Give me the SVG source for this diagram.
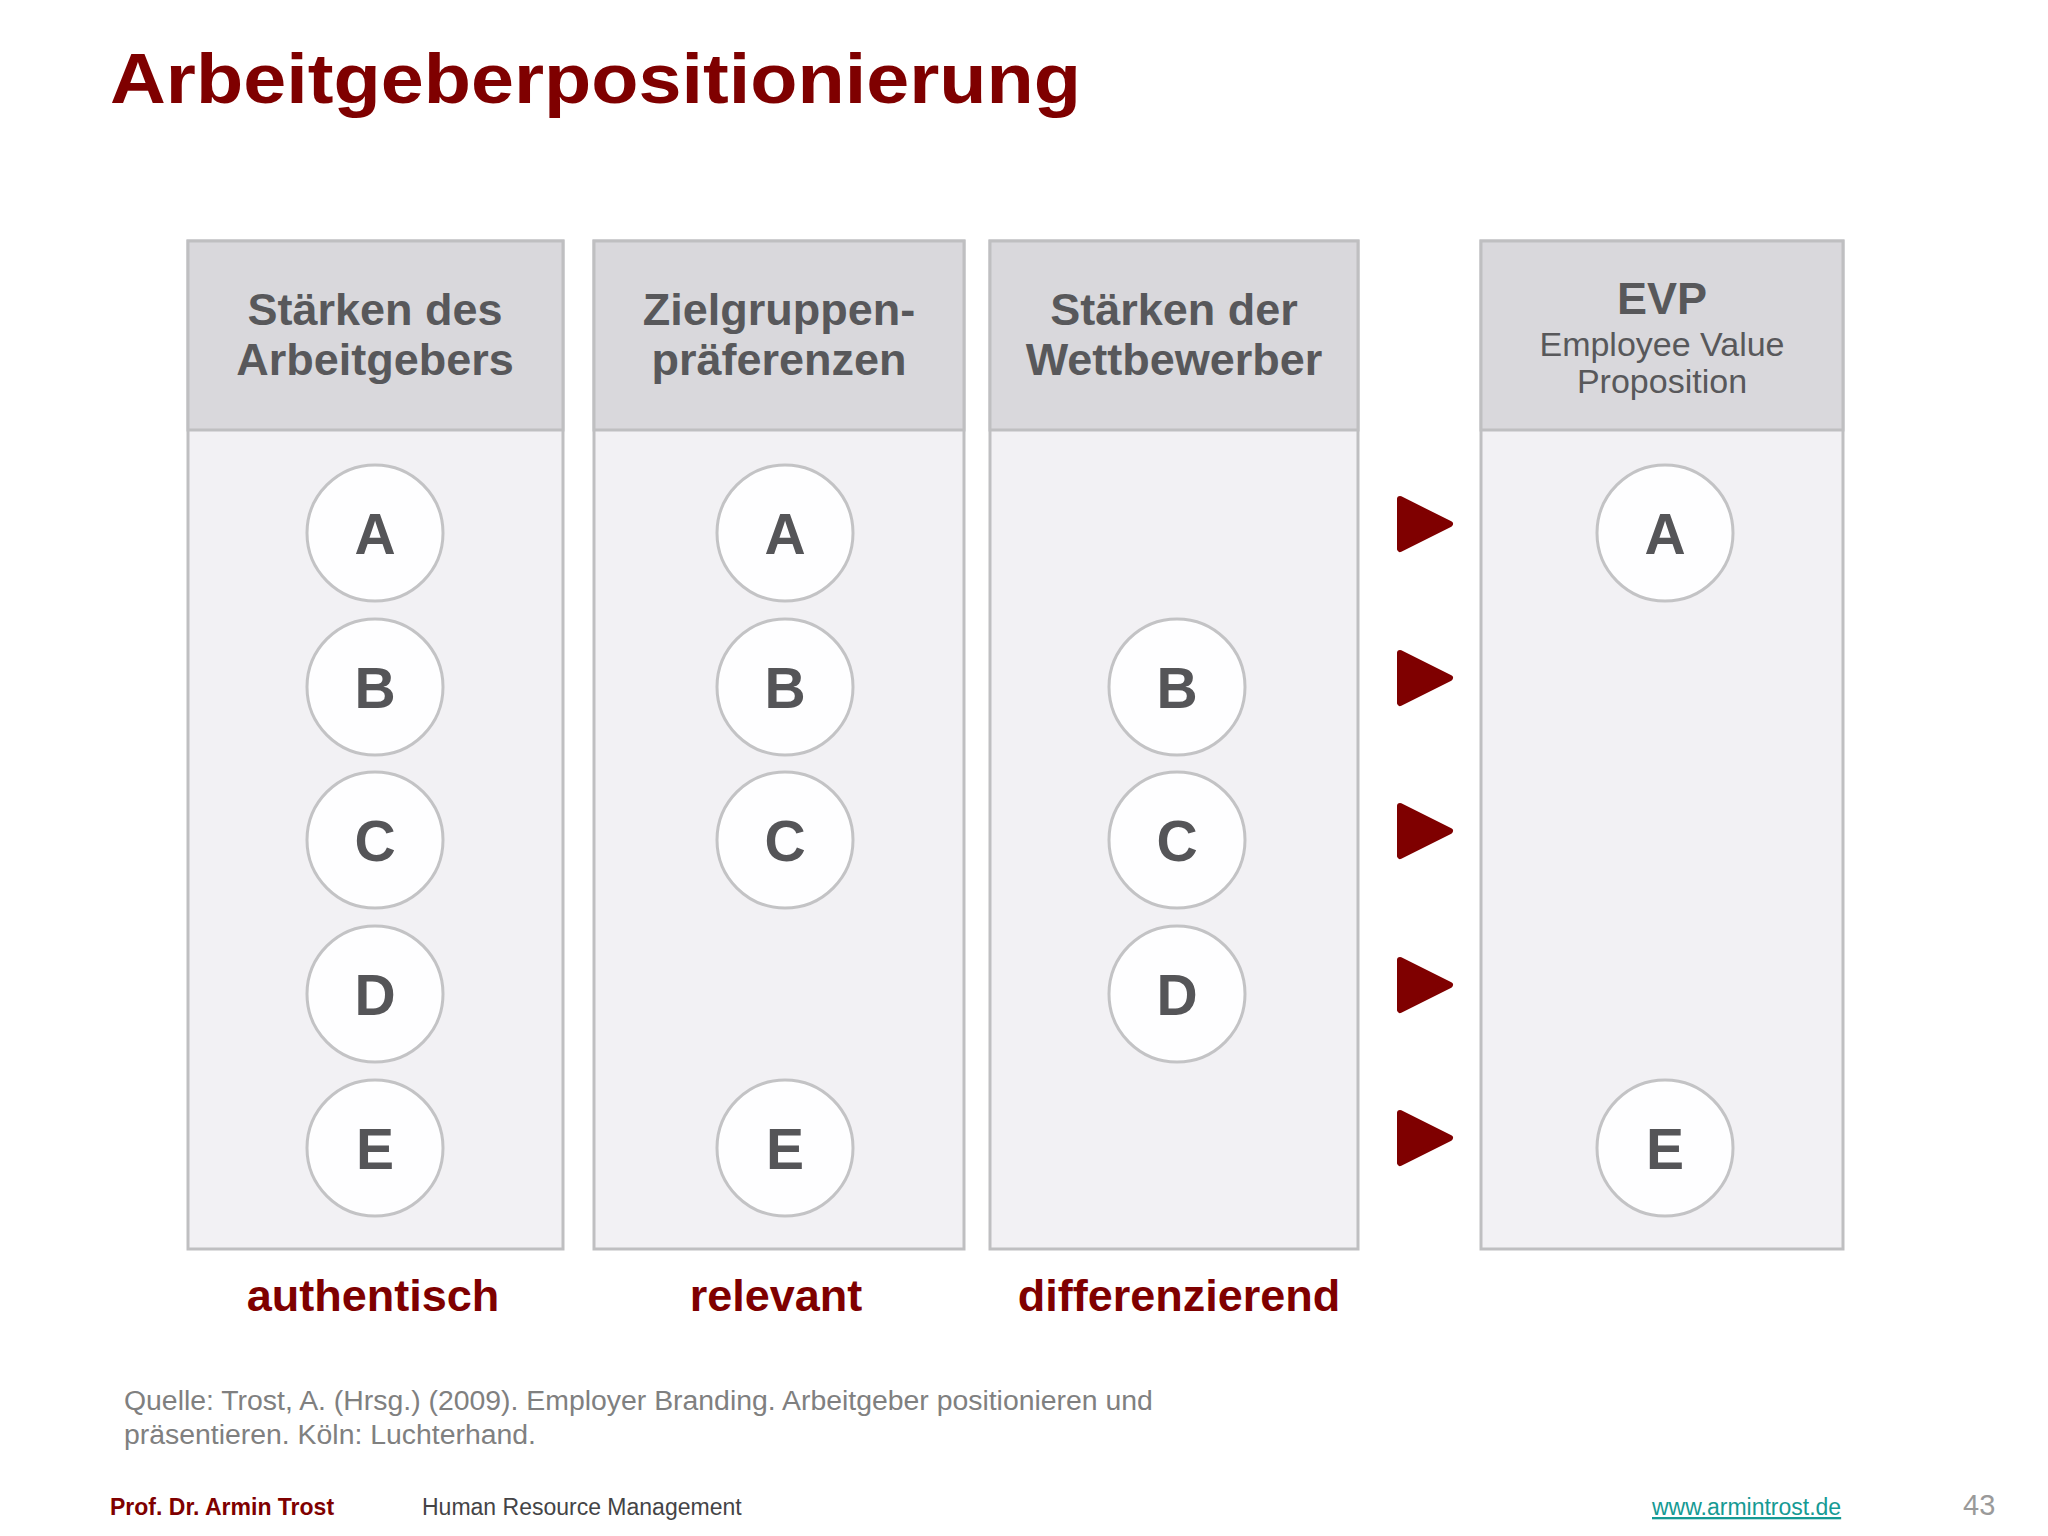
<svg xmlns="http://www.w3.org/2000/svg" width="2048" height="1536" viewBox="0 0 2048 1536">
<style>
.col-head{fill:#d9d8dc;stroke:#bfbfc1;stroke-width:3}
.col-body{fill:#f2f1f4;stroke:#bfbfc1;stroke-width:3}
.hd{font-family:"Liberation Sans",Arial,sans-serif;font-weight:bold;font-size:45px;fill:#58585b;text-anchor:middle}
.sub{font-family:"Liberation Sans",Arial,sans-serif;font-size:34px;fill:#58585b;text-anchor:middle}
.circ{fill:#fefeff;stroke:#c3c3c5;stroke-width:3}
.lt{font-family:"Liberation Sans",Arial,sans-serif;font-weight:bold;font-size:57px;fill:#555558;text-anchor:middle}
.lbl{font-family:"Liberation Sans",Arial,sans-serif;font-weight:bold;font-size:45px;fill:#7f0000;text-anchor:middle}
.arr{fill:#7f0000;stroke:#7f0000;stroke-width:6;stroke-linejoin:round}
.src{font-family:"Liberation Sans",Arial,sans-serif;font-size:28.4px;fill:#808080}
.ft{font-family:"Liberation Sans",Arial,sans-serif;font-size:23px;fill:#444446}
</style>
<rect width="2048" height="1536" fill="#ffffff"/>
<text x="110" y="103" font-family="'Liberation Sans',Arial,sans-serif" font-weight="bold" font-size="70" fill="#7f0000" textLength="971" lengthAdjust="spacingAndGlyphs">Arbeitgeberpositionierung</text>

<g id="col1">
<rect class="col-body" x="188" y="241" width="375" height="1008"/>
<rect class="col-head" x="188" y="241" width="375" height="189"/>
<text class="hd" x="375" y="325">Stärken des</text>
<text class="hd" x="375" y="375">Arbeitgebers</text>
</g>
<g id="col2">
<rect class="col-body" x="594" y="241" width="370" height="1008"/>
<rect class="col-head" x="594" y="241" width="370" height="189"/>
<text class="hd" x="779" y="325">Zielgruppen-</text>
<text class="hd" x="779" y="375">präferenzen</text>
</g>
<g id="col3">
<rect class="col-body" x="990" y="241" width="368" height="1008"/>
<rect class="col-head" x="990" y="241" width="368" height="189"/>
<text class="hd" x="1174" y="325">Stärken der</text>
<text class="hd" x="1174" y="375">Wettbewerber</text>
</g>
<g id="col4">
<rect class="col-body" x="1481" y="241" width="362" height="1008"/>
<rect class="col-head" x="1481" y="241" width="362" height="189"/>
<text class="hd" x="1662" y="314" font-size="50">EVP</text>
<text class="sub" x="1662" y="356">Employee Value</text>
<text class="sub" x="1662" y="393">Proposition</text>
</g>

<g id="c1A"><circle class="circ" cx="375" cy="533" r="68"/><text class="lt" x="375" y="554">A</text></g>
<g id="c1B"><circle class="circ" cx="375" cy="687" r="68"/><text class="lt" x="375" y="708">B</text></g>
<g id="c1C"><circle class="circ" cx="375" cy="840" r="68"/><text class="lt" x="375" y="861">C</text></g>
<g id="c1D"><circle class="circ" cx="375" cy="994" r="68"/><text class="lt" x="375" y="1015">D</text></g>
<g id="c1E"><circle class="circ" cx="375" cy="1148" r="68"/><text class="lt" x="375" y="1169">E</text></g>

<g id="c2A"><circle class="circ" cx="785" cy="533" r="68"/><text class="lt" x="785" y="554">A</text></g>
<g id="c2B"><circle class="circ" cx="785" cy="687" r="68"/><text class="lt" x="785" y="708">B</text></g>
<g id="c2C"><circle class="circ" cx="785" cy="840" r="68"/><text class="lt" x="785" y="861">C</text></g>
<g id="c2E"><circle class="circ" cx="785" cy="1148" r="68"/><text class="lt" x="785" y="1169">E</text></g>

<g id="c3B"><circle class="circ" cx="1177" cy="687" r="68"/><text class="lt" x="1177" y="708">B</text></g>
<g id="c3C"><circle class="circ" cx="1177" cy="840" r="68"/><text class="lt" x="1177" y="861">C</text></g>
<g id="c3D"><circle class="circ" cx="1177" cy="994" r="68"/><text class="lt" x="1177" y="1015">D</text></g>

<g id="c4A"><circle class="circ" cx="1665" cy="533" r="68"/><text class="lt" x="1665" y="554">A</text></g>
<g id="c4E"><circle class="circ" cx="1665" cy="1148" r="68"/><text class="lt" x="1665" y="1169">E</text></g>

<g id="connectors">
<polygon class="arr" points="1400,499 1450,524 1400,549"/>
<polygon class="arr" points="1400,653 1450,678 1400,703"/>
<polygon class="arr" points="1400,806 1450,831 1400,856"/>
<polygon class="arr" points="1400,960 1450,985 1400,1010"/>
<polygon class="arr" points="1400,1113 1450,1138 1400,1163"/>
</g>

<text class="lbl" x="373" y="1311">authentisch</text>
<text class="lbl" x="776" y="1311">relevant</text>
<text class="lbl" x="1179" y="1311">differenzierend</text>

<text class="src" x="124" y="1410">Quelle: Trost, A. (Hrsg.) (2009). Employer Branding. Arbeitgeber positionieren und</text>
<text class="src" x="124" y="1444">präsentieren. Köln: Luchterhand.</text>

<text x="110" y="1515" font-family="'Liberation Sans',Arial,sans-serif" font-weight="bold" font-size="23" fill="#7f0000">Prof. Dr. Armin Trost</text>
<text class="ft" x="422" y="1515">Human Resource Management</text>
<text x="1652" y="1515" font-family="'Liberation Sans',Arial,sans-serif" font-size="23" fill="#159a94" text-decoration="underline">www.armintrost.de</text>
<text x="1963" y="1515" font-family="'Liberation Sans',Arial,sans-serif" font-size="29" fill="#9a9a9a">43</text>
</svg>
